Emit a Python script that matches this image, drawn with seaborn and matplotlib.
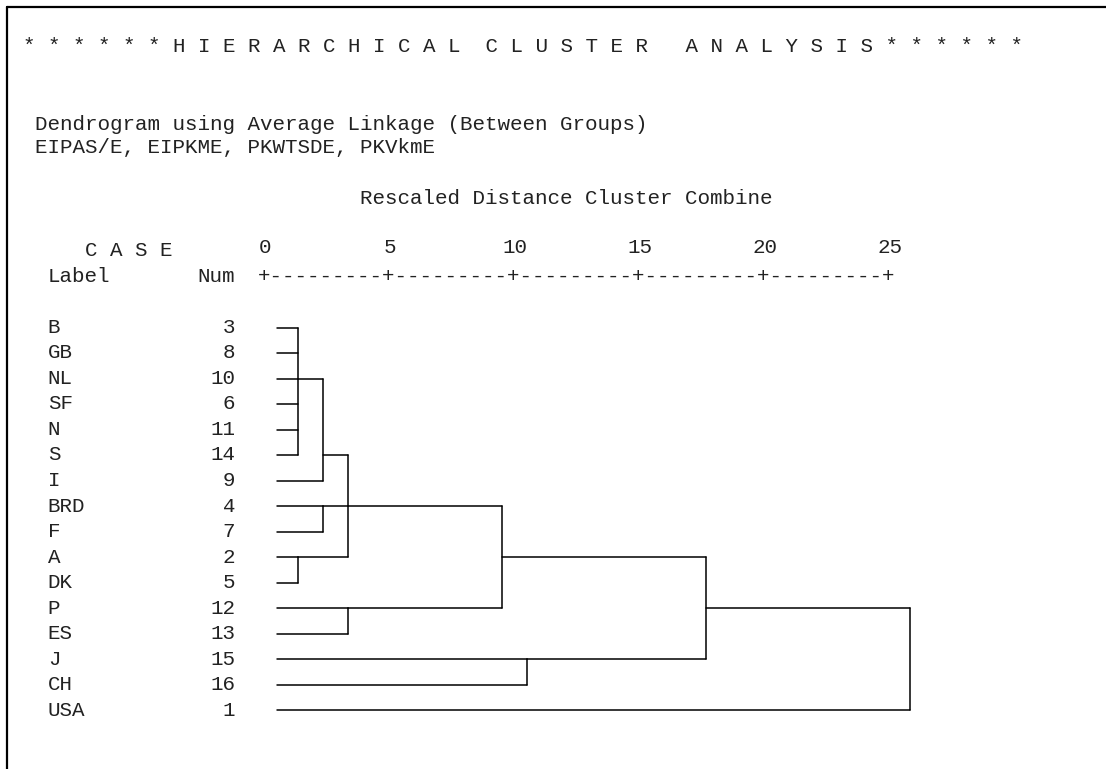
import numpy as np
import pandas as pd
import matplotlib
matplotlib.use("Agg")
import matplotlib.pyplot as plt
import matplotlib.transforms as mtransforms
from matplotlib.lines import Line2D
import seaborn as sns

# ---------------- data ----------------
case_labels = ['B', 'GB', 'NL', 'SF', 'N', 'S', 'I', 'BRD', 'F', 'A', 'DK',
               'P', 'ES', 'J', 'CH', 'USA']
case_nums = [3, 8, 10, 6, 11, 14, 9, 4, 7, 2, 5, 12, 13, 15, 16, 1]

# agglomeration steps (members, rescaled distance, case row the merged line continues on)
merge_names = ['c1', 'c2', 'c3', 'c4', 'c5', 'c6', 'c7', 'c8', 'c9', 'c10']
merge_members = [['B', 'GB', 'NL', 'SF', 'N', 'S'], ['A', 'DK'], ['c1', 'I'],
                 ['BRD', 'F'], ['P', 'ES'], ['c3', 'c4', 'c2'], ['c6', 'c5'],
                 ['J', 'CH'], ['c7', 'c8'], ['c9', 'USA']]
merge_dist = [1.32, 1.32, 2.35, 2.35, 3.35, 3.35, 9.49, 10.49, 17.66, 25.82]
merge_anchor = ['NL', 'A', 'S', 'BRD', 'P', 'BRD', 'A', 'J', 'P', None]

tick_values = [0, 5, 10, 15, 20, 25]

title_text = "* * * * * * H I E R A R C H I C A L  C L U S T E R   A N A L Y S I S * * * * * *"
subtitle1 = "Dendrogram using Average Linkage (Between Groups)"
subtitle2 = "EIPAS/E, EIPKME, PKWTSDE, PKVkmE"
axis_title = "Rescaled Distance Cluster Combine"

# ---------------- build segments ----------------
LEAF_START = 0.5
row = {lab: i for i, lab in enumerate(case_labels)}
height = {lab: LEAF_START for lab in case_labels}
recs = []
seg = 0
for name, members, d, anchor in zip(merge_names, merge_members, merge_dist, merge_anchor):
    rs = [row[m] for m in members]
    for m in members:
        recs.append((seg, height[m], row[m])); recs.append((seg, d, row[m])); seg += 1
    recs.append((seg, d, min(rs))); recs.append((seg, d, max(rs))); seg += 1
    row[name] = row[anchor] if anchor is not None else float(np.mean(rs))
    height[name] = d
df = pd.DataFrame(recs, columns=['seg', 'x', 'y'])

# ---------------- figure ----------------
sns.set_theme(style='white')
plt.rcParams['font.family'] = ['Liberation Mono', 'DejaVu Sans Mono']
FS = 15

W, H = 1106, 769
fig = plt.figure(figsize=(W / 100, H / 100), dpi=100)
fig.patch.set_facecolor('white')

X0, UNIT = 264.5, 25.0          # pixel of distance 0, pixels per distance unit
ROW0, ROWH = 327.5, 25.53       # pixel of first case row, pixels per row
ytop, ybot = -2, 17
ax_top_px = ROW0 + ROWH * ytop
ax_bot_px = ROW0 + ROWH * ybot
ax = fig.add_axes([X0 / W, 1 - ax_bot_px / H, (W - X0) / W, (ax_bot_px - ax_top_px) / H])

sns.lineplot(data=df, x='x', y='y', units='seg', estimator=None, sort=False,
             color='black', linewidth=1.1, ax=ax, legend=False)
ax.set_xlim(0, (W - X0) / UNIT)
ax.set_ylim(ybot, ytop)
for s in ax.spines.values():
    s.set_visible(False)
ax.set_xlabel(''); ax.set_ylabel('')
ax.set_yticks([])
ax.set_xticks(tick_values)
ax.set_xticklabels([str(v) for v in tick_values], fontsize=FS, color='#222222')
ax.tick_params(axis='x', bottom=False, labelbottom=False, top=False, labeltop=True,
               length=0, pad=(ax_top_px - 257) * 0.72)
ax.patch.set_alpha(0)

def fx(px):
    return px / W

def fy(py):
    return 1 - py / H

tc = '#222222'
fig.text(fx(22.75), fy(51.5), title_text, fontsize=FS, color=tc, va='baseline', ha='left')
fig.text(fx(35.25), fy(130), subtitle1, fontsize=FS, color=tc, va='baseline', ha='left')
fig.text(fx(35.25), fy(153.3), subtitle2, fontsize=FS, color=tc, va='baseline', ha='left')
fig.text(fx(359.5), fy(204), axis_title, fontsize=FS, color=tc, va='baseline', ha='left')
fig.text(fx(85.25), fy(256), "C A S E", fontsize=FS, color=tc, va='baseline', ha='left')
fig.text(fx(47.75), fy(282), "Label", fontsize=FS, color=tc, va='baseline', ha='left')
fig.text(fx(197.75), fy(282), "Num", fontsize=FS, color=tc, va='baseline', ha='left')

ruler = "+" + "+".join(["-" * 9] * 5) + "+"
ruler_tr = mtransforms.blended_transform_factory(ax.transData, fig.transFigure)
ax.text(12.5, fy(282), ruler, fontsize=FS, color=tc, va='baseline', ha='center',
        transform=ruler_tr, clip_on=False)

# case labels and numbers, aligned on the case rows
row_tr = mtransforms.blended_transform_factory(fig.transFigure, ax.transData)
row_tr = mtransforms.offset_copy(row_tr, fig=fig, x=0, y=-5.3, units='dots')
for i, (lab, num) in enumerate(zip(case_labels, case_nums)):
    ax.text(fx(47.75), i, lab, fontsize=FS, color=tc, va='baseline', ha='left',
            transform=row_tr, clip_on=False)
    ax.text(fx(235.25), i, str(num), fontsize=FS, color=tc, va='baseline', ha='right',
            transform=row_tr, clip_on=False)

# page frame (top and left edges)
fig.add_artist(Line2D([fx(6.5), 1.0], [fy(6.5), fy(6.5)], transform=fig.transFigure,
                      color='black', linewidth=1.6))
fig.add_artist(Line2D([fx(6.5), fx(6.5)], [fy(6.5), 0.0], transform=fig.transFigure,
                      color='black', linewidth=1.6))

fig.savefig('out.png', dpi=100, facecolor='white')
